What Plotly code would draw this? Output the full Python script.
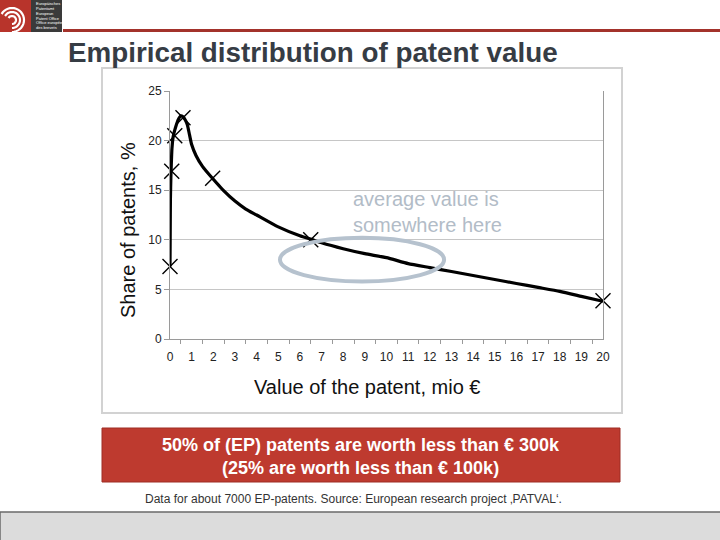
import math
import plotly.graph_objects as go

# ---- data ----
curve_x = [0, 0.01, 0.02, 0.04, 0.06, 0.09, 0.14, 0.2, 0.28, 0.38, 0.5, 0.6, 0.7, 0.8, 0.9, 1.0,
           1.2, 1.5, 2.0, 2.5, 3.0, 3.5, 4.0, 5.0, 6.0, 6.6, 7.0, 8.0, 9.0, 10.0, 11.0, 12.0,
           13.0, 14.0, 15.0, 16.0, 17.0, 18.0, 19.0, 20.0]
curve_y = [7.3, 11.0, 14.2, 16.3, 17.6, 19.2, 20.3, 20.9, 21.5, 22.1, 22.5, 22.4, 22.1, 21.6, 20.6, 19.6,
           18.5, 17.4, 16.1, 14.9, 13.9, 13.1, 12.5, 11.3, 10.4, 10.0, 9.7, 9.1, 8.6, 8.2, 7.6, 7.2,
           6.8, 6.4, 6.0, 5.6, 5.2, 4.8, 4.3, 3.8]
marker_x = [0, 0.08, 0.22, 0.6, 1.97, 6.5, 20]
marker_y = [7.3, 16.9, 20.5, 22.3, 16.2, 10.0, 3.85]
x_ticks = list(range(0, 21))
y_ticks = [0, 5, 10, 15, 20, 25]

title_text = "Empirical distribution of patent value"
y_title = "Share of patents, %"
x_title = "Value of the patent, mio €"
note_text = "average value is<br>somewhere here"
box_text = "50% of (EP) patents are worth less than € 300k<br>(25% are worth less than € 100k)"
footer_text = "Data for about 7000 EP-patents. Source: European research project ‚PATVAL‘."

# plot area in pixels
L, R, T, B = 170, 603, 91, 339
W, H = 720, 540


def px(x):
    return (x - L) / (R - L)


def py(y):
    return (B - y) / (B - T)


FONT = "Liberation Sans, Arial, sans-serif"

fig = go.Figure()
fig.add_trace(go.Scatter(x=curve_x, y=curve_y, mode="lines",
                         line=dict(color="black", width=3.2, shape="spline", smoothing=0.5),
                         cliponaxis=False, hoverinfo="skip", showlegend=False))
fig.add_trace(go.Scatter(x=marker_x, y=marker_y, mode="markers",
                         marker=dict(symbol="x-thin", size=15, color="black",
                                     line=dict(color="black", width=1.4)),
                         cliponaxis=False, showlegend=False))

shapes = []
# chart frame
shapes.append(dict(type="rect", xref="paper", yref="paper", x0=px(102), x1=px(622), y0=py(68), y1=py(413),
                   line=dict(color="#d2d2d2", width=2), fillcolor="rgba(0,0,0,0)", layer="below"))
# ellipse
shapes.append(dict(type="circle", xref="x", yref="y", x0=5.08, x1=12.66, y0=5.8, y1=10.2,
                   line=dict(color="#b6c2ce", width=4)))
# header line
shapes.append(dict(type="rect", xref="paper", yref="paper", x0=px(63), x1=px(720), y0=py(29), y1=py(32),
                   line=dict(width=0), fillcolor="#a3322b"))
# logo
shapes.append(dict(type="rect", xref="paper", yref="paper", x0=px(0), x1=px(31), y0=py(0), y1=py(32),
                   line=dict(width=0), fillcolor="#b8342b"))
shapes.append(dict(type="rect", xref="paper", yref="paper", x0=px(31), x1=px(62), y0=py(0), y1=py(32),
                   line=dict(width=0), fillcolor="#3a3a3a"))
cx, cy = 12, 20
for r in (4, 8, 12):
    pts = []
    for k in range(0, 25):
        a = math.radians(-150 + k * 10)
        pts.append((cx + r * math.cos(a), cy + r * math.sin(a)))
    path = "M " + " L ".join(f"{px(x):.5f},{py(y):.5f}" for x, y in pts)
    shapes.append(dict(type="path", xref="paper", yref="paper", path=path,
                       line=dict(color="white", width=2.2)))
# red message box
shapes.append(dict(type="rect", xref="paper", yref="paper", x0=px(102), x1=px(620), y0=py(428), y1=py(482),
                   line=dict(color="#9e2c24", width=1), fillcolor="#be3a2f"))
# bottom band
shapes.append(dict(type="rect", xref="paper", yref="paper", x0=px(0), x1=px(721), y0=py(512), y1=py(545),
                   line=dict(color="#6a6a6a", width=1.5), fillcolor="#dcdcdc"))

ann = []
ann.append(dict(text=f"<b>{title_text}</b>", xref="paper", yref="paper", x=px(66), y=py(52),
                xanchor="left", yanchor="middle", showarrow=False,
                font=dict(family=FONT, size=27.8, color="#363c44")))
ann.append(dict(text=y_title, xref="paper", yref="paper", x=px(128), y=py(230), textangle=-90,
                xanchor="center", yanchor="middle", showarrow=False,
                font=dict(family=FONT, size=20, color="#111111")))
ann.append(dict(text=x_title, xref="paper", yref="paper", x=px(367), y=py(387),
                xanchor="center", yanchor="middle", showarrow=False,
                font=dict(family=FONT, size=20, color="#111111")))
ann.append(dict(text=note_text, xref="paper", yref="paper", x=px(351), y=py(212), align="left",
                xanchor="left", yanchor="middle", showarrow=False,
                font=dict(family=FONT, size=20, color="#b2bcc7")))
ann.append(dict(text=f"<b>{box_text}</b>", xref="paper", yref="paper", x=px(361), y=py(456),
                xanchor="center", yanchor="middle", showarrow=False,
                font=dict(family=FONT, size=18, color="white")))
ann.append(dict(text=footer_text, xref="paper", yref="paper", x=px(353), y=py(499),
                xanchor="center", yanchor="middle", showarrow=False,
                font=dict(family=FONT, size=12, color="#333333")))
logo_lines = ["Europäisches<br>Patentamt", "European<br>Patent Office", "Office européen<br>des brevets"]
for i, t in enumerate(logo_lines):
    ann.append(dict(text=t, xref="paper", yref="paper", x=px(34), y=py(6 + i * 9.5), align="left",
                    xanchor="left", yanchor="middle", showarrow=False,
                    font=dict(family=FONT, size=4, color="white")))

fig.update_layout(
    width=W, height=H,
    margin=dict(l=L, r=W - R, t=T, b=H - B, pad=0),
    paper_bgcolor="white", plot_bgcolor="white",
    shapes=shapes, annotations=ann, showlegend=False,
    xaxis=dict(range=[0, 20], tickvals=x_ticks, ticktext=[str(v) for v in x_ticks],
               showgrid=False, zeroline=False, showline=True, linecolor="#9a9a9a", linewidth=1,
               ticks="outside", ticklen=0, tickcolor="#9a9a9a", ticklabelstandoff=7,
               minor=dict(tick0=0.5, dtick=1, ticks="outside", ticklen=4, tickcolor="#9a9a9a", showgrid=False),
               tickfont=dict(family=FONT, size=12, color="#222222"), fixedrange=True),
    yaxis=dict(range=[0, 25], tickvals=y_ticks, showgrid=True, gridcolor="#c6c6c6", gridwidth=1,
               zeroline=False, showline=True, linecolor="#9a9a9a", linewidth=1, mirror=True,
               ticks="outside", ticklen=5, tickcolor="#9a9a9a",
               tickfont=dict(family=FONT, size=12, color="#222222"), fixedrange=True),
)

fig.write_html("out.html", config={"displayModeBar": False},
               post_script="document.body.style.margin='0px';document.body.style.overflow='hidden';")
